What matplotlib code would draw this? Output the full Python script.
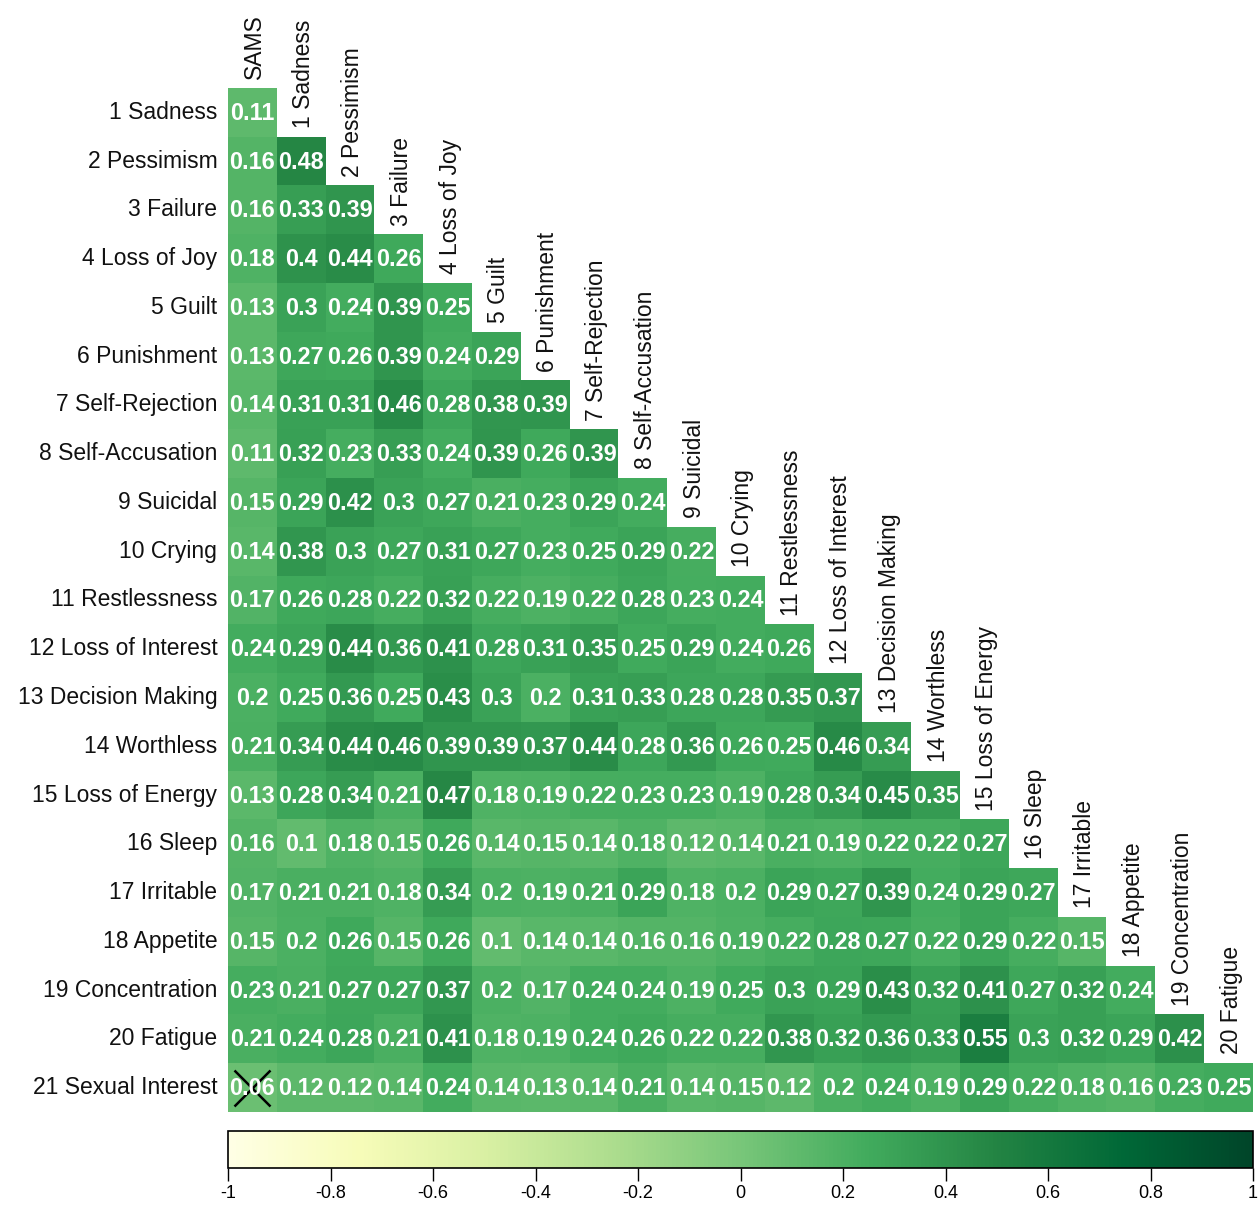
import numpy as np
import matplotlib
matplotlib.use("Agg")
import matplotlib.pyplot as plt
from matplotlib.cm import ScalarMappable
from matplotlib.colors import Normalize

row_labels = ["1 Sadness", "2 Pessimism", "3 Failure", "4 Loss of Joy", "5 Guilt",
              "6 Punishment", "7 Self-Rejection", "8 Self-Accusation", "9 Suicidal",
              "10 Crying", "11 Restlessness", "12 Loss of Interest", "13 Decision Making",
              "14 Worthless", "15 Loss of Energy", "16 Sleep", "17 Irritable",
              "18 Appetite", "19 Concentration", "20 Fatigue", "21 Sexual Interest"]
col_labels = ["SAMS"] + row_labels[:-1]

# lower triangle, one list per row (first value = SAMS)
r01 = [0.11]
r02 = [0.16, 0.48]
r03 = [0.16, 0.33, 0.39]
r04 = [0.18, 0.4, 0.44, 0.26]
r05 = [0.13, 0.3, 0.24, 0.39, 0.25]
r06 = [0.13, 0.27, 0.26, 0.39, 0.24, 0.29]
r07 = [0.14, 0.31, 0.31, 0.46, 0.28, 0.38, 0.39]
r08 = [0.11, 0.32, 0.23, 0.33, 0.24, 0.39, 0.26, 0.39]
r09 = [0.15, 0.29, 0.42, 0.3, 0.27, 0.21, 0.23, 0.29, 0.24]
r10 = [0.14, 0.38, 0.3, 0.27, 0.31, 0.27, 0.23, 0.25, 0.29, 0.22]
r11 = [0.17, 0.26, 0.28, 0.22, 0.32, 0.22, 0.19, 0.22, 0.28, 0.23, 0.24]
r12 = [0.24, 0.29, 0.44, 0.36, 0.41, 0.28, 0.31, 0.35, 0.25, 0.29, 0.24, 0.26]
r13 = [0.2, 0.25, 0.36, 0.25, 0.43, 0.3, 0.2, 0.31, 0.33, 0.28, 0.28, 0.35, 0.37]
r14 = [0.21, 0.34, 0.44, 0.46, 0.39, 0.39, 0.37, 0.44, 0.28, 0.36, 0.26, 0.25, 0.46, 0.34]
r15 = [0.13, 0.28, 0.34, 0.21, 0.47, 0.18, 0.19, 0.22, 0.23, 0.23, 0.19, 0.28, 0.34, 0.45,
       0.35]
r16 = [0.16, 0.1, 0.18, 0.15, 0.26, 0.14, 0.15, 0.14, 0.18, 0.12, 0.14, 0.21, 0.19, 0.22,
       0.22, 0.27]
r17 = [0.17, 0.21, 0.21, 0.18, 0.34, 0.2, 0.19, 0.21, 0.29, 0.18, 0.2, 0.29, 0.27, 0.39,
       0.24, 0.29, 0.27]
r18 = [0.15, 0.2, 0.26, 0.15, 0.26, 0.1, 0.14, 0.14, 0.16, 0.16, 0.19, 0.22, 0.28, 0.27,
       0.22, 0.29, 0.22, 0.15]
r19 = [0.23, 0.21, 0.27, 0.27, 0.37, 0.2, 0.17, 0.24, 0.24, 0.19, 0.25, 0.3, 0.29, 0.43,
       0.32, 0.41, 0.27, 0.32, 0.24]
r20 = [0.21, 0.24, 0.28, 0.21, 0.41, 0.18, 0.19, 0.24, 0.26, 0.22, 0.22, 0.38, 0.32, 0.36,
       0.33, 0.55, 0.3, 0.32, 0.29, 0.42]
r21 = [0.06, 0.12, 0.12, 0.14, 0.24, 0.14, 0.13, 0.14, 0.21, 0.14, 0.15, 0.12, 0.2, 0.24,
       0.19, 0.29, 0.22, 0.18, 0.16, 0.23, 0.25]

# (row, col) cells marked as not significant
nonsig = [(20, 0)]

cbar_ticks = [-1, -0.8, -0.6, -0.4, -0.2, 0, 0.2, 0.4, 0.6, 0.8, 1]
cbar_ticklabels = ["-1", "-0.8", "-0.6", "-0.4", "-0.2", "0", "0.2", "0.4", "0.6", "0.8", "1"]

rows = [r01, r02, r03, r04, r05, r06, r07, r08, r09, r10, r11,
        r12, r13, r14, r15, r16, r17, r18, r19, r20, r21]
n = len(rows)
mat = np.full((n, n), np.nan)
for i, r in enumerate(rows):
    mat[i, :len(r)] = r

label_font = "Liberation Sans"
cmap = plt.get_cmap("YlGn")

fig = plt.figure(figsize=(12.6, 12.08), dpi=100)
ax = fig.add_axes([228 / 1260, 96 / 1208, 1025 / 1260, 1024 / 1208])
ax.imshow(np.ma.masked_invalid(mat), cmap=cmap, vmin=-1, vmax=1,
          aspect="auto", interpolation="nearest")
ax.set_xlim(-0.5, n - 0.5)
ax.set_ylim(n - 0.5, -0.5)
ax.axis("off")

# cell values
for i, r in enumerate(rows):
    for j, v in enumerate(r):
        ax.text(j, i + 0.02, f"{v:g}", ha="center", va="center", color="white",
                fontsize=16.8, fontweight="bold", family=label_font)

# not significant crosses
for (i, j) in nonsig:
    ax.plot(j, i, marker="x", ms=26, mew=1.8, color="black")

# row labels on the left
for i, lab in enumerate(row_labels):
    ax.text(-0.72, i, lab, ha="right", va="center", fontsize=16.5,
            family=label_font, color="#111111")

# column labels above the diagonal
for j, lab in enumerate(col_labels):
    ax.text(j + 0.05, j - 0.68, lab, ha="center", va="bottom", rotation=90,
            fontsize=16.5, family=label_font, color="#111111")

# colorbar
cax = fig.add_axes([228 / 1260, 40 / 1208, 1025 / 1260, 37 / 1208])
sm = ScalarMappable(norm=Normalize(vmin=-1, vmax=1), cmap=cmap)
cb = fig.colorbar(sm, cax=cax, orientation="horizontal")
cb.set_ticks(cbar_ticks)
cb.set_ticklabels(cbar_ticklabels)
cb.outline.set_linewidth(1.2)
cb.outline.set_edgecolor("black")
cax.tick_params(axis="x", direction="out", length=9, width=1, pad=3,
                labelsize=13, colors="black")
for t in cax.get_xticklabels():
    t.set_family(label_font)

fig.savefig("out.png", dpi=100)
